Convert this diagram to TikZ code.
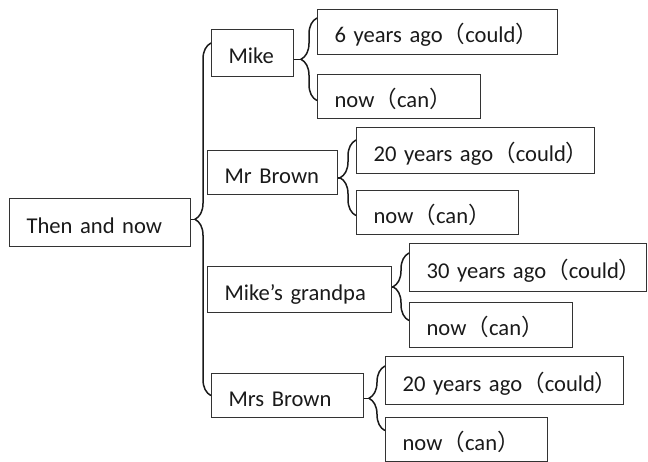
\documentclass[tikz,border=0pt]{standalone}
\usepackage{fontspec}
\setmainfont{Carlito}
\newfontfamily\cjk{Noto Sans CJK SC}
\usepackage{tikz}
\usepackage{xcolor}
\usetikzlibrary{decorations.pathreplacing,calc}
\definecolor{ink}{HTML}{1A1A1A}
\definecolor{boxgray}{HTML}{333333}
\newcommand{\fwparen}[1]{{\cjk （}#1{\cjk ）}}

\begin{document}
\begin{tikzpicture}[x=1pt,y=-1pt,
    box/.style 2 args={draw=boxgray,line width=1.2pt,anchor=north west,
      inner xsep=17pt,inner ysep=0pt,text width=#1-34pt,minimum height=#2,
      text height=21.6pt,text depth=0pt,text=ink,
      font=\fontsize{22.6}{27}\selectfont},
    brace/.style={draw=ink,line width=1.5pt,decorate,
      decoration={brace,amplitude=16pt}},
    stub/.style={draw=ink,line width=1.5pt}]
    \path[use as bounding box] (0,0) rectangle (648,462);
    % root
    \node[box={181pt}{48pt}] (root) at (9,198) {Then and now};
    % people
    \node[box={82pt}{47pt}] (mike) at (211,29) {Mike};
    \node[box={130pt}{44pt}] (mrb) at (207,150) {\mbox{Mr Brown}};
    \node[box={184pt}{46pt}] (gpa) at (207,266) {\mbox{Mike’s grandpa}};
    \node[box={152pt}{44pt}] (mrsb) at (211,373) {\mbox{Mrs Brown}};
    % then / now boxes
    \node[box={240pt}{45pt}] (ago1) at (317,9) {\mbox{6 years ago\fwparen{could}}};
    \node[box={163pt}{44pt}] (now1) at (317,74) {\mbox{now\fwparen{can}}};
    \node[box={238pt}{46pt}] (ago2) at (356,127) {\mbox{20 years ago\fwparen{could}}};
    \node[box={162pt}{44pt}] (now2) at (356,190) {\mbox{now\fwparen{can}}};
    \node[box={237pt}{48pt}] (ago3) at (409,243) {\mbox{30 years ago\fwparen{could}}};
    \node[box={163pt}{45pt}] (now3) at (409,302) {\mbox{now\fwparen{can}}};
    \node[box={238pt}{48pt}] (ago4) at (385,356) {\mbox{20 years ago\fwparen{could}}};
    \node[box={162pt}{44pt}] (now4) at (385,417) {\mbox{now\fwparen{can}}};
    % main brace
    \draw[brace] (mrsb.west) -- coordinate (m0) ([yshift=-14pt]mike.north west);
    \draw[stub] (root.east |- m0) -- ([xshift=-16pt]m0);
    % small braces
    \draw[brace] ([yshift=-4pt]now1.west) -- coordinate (m1) ([yshift=-9pt]ago1.north west);
    \draw[stub] (mike.east |- m1) -- ([xshift=-16pt]m1);
    \draw[brace] ([yshift=-3pt]now2.west) -- coordinate (m2) ([yshift=-13pt]ago2.north west);
    \draw[stub] (mrb.east |- m2) -- ([xshift=-16pt]m2);
    \draw[brace] ([yshift=4.5pt]now3.west) -- coordinate (m3) ([yshift=-10pt]ago3.north west);
    \draw[stub] (gpa.east |- m3) -- ([xshift=-16pt]m3);
    \draw[brace] ([yshift=9pt]now4.west) -- coordinate (m4) ([yshift=-10pt]ago4.north west);
    \draw[stub] (mrsb.east |- m4) -- ([xshift=-16pt]m4);
  \end{tikzpicture}
\end{document}
